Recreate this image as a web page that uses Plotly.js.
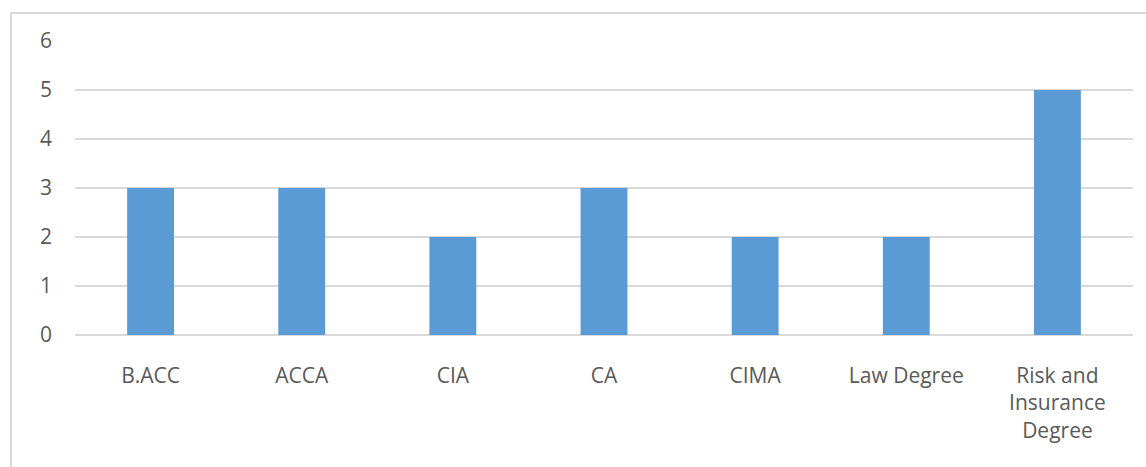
<!DOCTYPE html>
<html><head><meta charset="utf-8">
<script src="https://cdn.plot.ly/plotly-3.0.1.min.js"></script>
<style>
html,body{margin:0;padding:0;background:#fff;overflow:hidden;}
#frame{position:absolute;left:10px;top:12px;width:1200px;height:500px;border-left:2px solid #d9d9d9;border-top:2px solid #d9d9d9;}
#chart{position:absolute;left:0;top:0;width:1146px;height:467px;}
</style></head><body>
<div id="frame"></div>
<div id="chart"></div>
<script>
var categories = ["B.ACC", "ACCA", "CIA", "CA", "CIMA", "Law Degree", "Risk and Insurance Degree"];
var tickLabels = ["B.ACC", "ACCA", "CIA", "CA", "CIMA", "Law Degree", "Risk and<br>Insurance<br>Degree"];
var values = [3, 3, 2, 3, 2, 2, 5];
var yTicks = [0, 1, 2, 3, 4, 5, 6];

Plotly.newPlot("chart", [{
  type: "bar",
  x: categories,
  y: values,
  width: 0.31,
  marker: {color: "#5B9BD5"},
  hoverinfo: "x+y"
}], {
  width: 1146, height: 467,
  margin: {l: 75, r: 13, t: 41, b: 132},
  paper_bgcolor: "rgba(0,0,0,0)",
  plot_bgcolor: "rgba(0,0,0,0)",
  showlegend: false,
  font: {family: "Open Sans, sans-serif", size: 21, color: "#595959"},
  xaxis: {
    tickvals: categories, ticktext: tickLabels,
    showgrid: false, zeroline: false, showline: false, ticks: "",
    ticklabelstandoff: 26,
    tickfont: {size: 21, color: "#595959"}
  },
  yaxis: {
    range: [0, 6], tickvals: yTicks, ticktext: yTicks.map(String),
    showgrid: true, gridcolor: "#d9d9d9", gridwidth: 1.5,
    zeroline: true, zerolinecolor: "#d9d9d9", zerolinewidth: 1.5,
    showline: false, ticks: "",
    ticklabelstandoff: 22,
    tickfont: {size: 21, color: "#595959"}
  }
}, {displayModeBar: false, staticPlot: true});
</script>
</body></html>
